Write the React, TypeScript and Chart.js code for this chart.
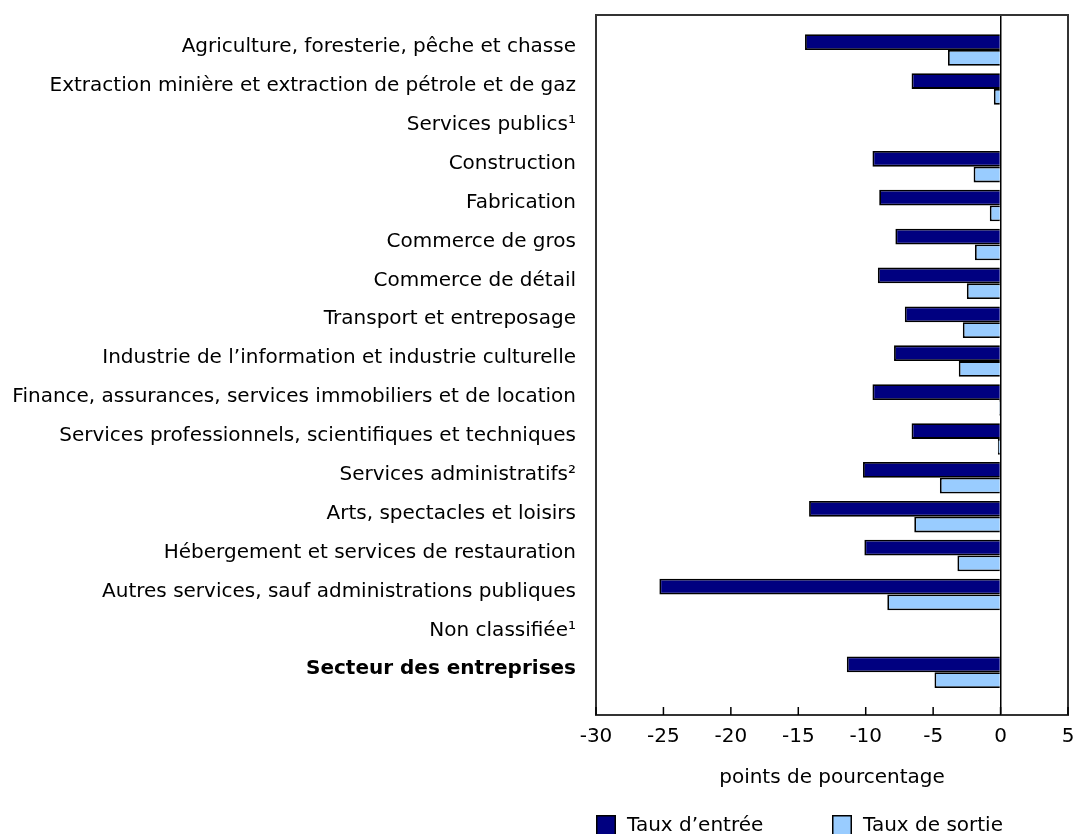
import React, { useEffect, useRef } from 'react';
import { Chart, registerables } from 'chart.js';

Chart.register(...registerables);

const categories: string[] = [
  'Agriculture, foresterie, pêche et chasse',
  'Extraction minière et extraction de pétrole et de gaz',
  'Services publics¹',
  'Construction',
  'Fabrication',
  'Commerce de gros',
  'Commerce de détail',
  'Transport et entreposage',
  'Industrie de l’information et industrie culturelle',
  'Finance, assurances, services immobiliers et de location',
  'Services professionnels, scientifiques et techniques',
  'Services administratifs²',
  'Arts, spectacles et loisirs',
  'Hébergement et services de restauration',
  'Autres services, sauf administrations publiques',
  'Non classifiée¹',
  'Secteur des entreprises',
];

const entryRates: (number | null)[] = [
  -14.5, -6.6, null, -9.5, -9.0, -7.8, -9.1, -7.1, -7.9, -9.5, -6.6, -10.2, -14.2, -10.1, -25.3, null, -11.4,
];
const exitRates: (number | null)[] = [
  -3.9, -0.5, null, -2.0, -0.8, -1.9, -2.5, -2.8, -3.1, -0.1, -0.2, -4.5, -6.4, -3.2, -8.4, null, -4.9,
];
const seriesNames: string[] = ['Taux d’entrée', 'Taux de sortie'];
const xTickValues: number[] = [-30, -25, -20, -15, -10, -5, 0, 5];
const xTitle = 'points de pourcentage';

const FONT = '"DejaVu Sans", Verdana, sans-serif';
const FS = 20;
const entryColor = '#000080';
const exitColor = '#99ccff';

const zeroPad = (scale: any) => {
  scale.paddingTop = 0;
  scale.paddingBottom = 0;
  scale.paddingLeft = 0;
  scale.paddingRight = 0;
};

export default function App() {
  const canvasRef = useRef<HTMLCanvasElement | null>(null);

  useEffect(() => {
    const canvas = canvasRef.current;
    if (!canvas) return;

    const framePlugin = {
      id: 'frameAndLegend',
      afterDraw(chart: any) {
        const { ctx, chartArea } = chart;
        const xs = chart.scales.x;
        ctx.save();
        ctx.strokeStyle = '#333333';
        ctx.lineWidth = 2;
        ctx.strokeRect(chartArea.left, chartArea.top, chartArea.right - chartArea.left, chartArea.bottom - chartArea.top);
        ctx.strokeStyle = '#000';
        ctx.lineWidth = 1.5;
        xTickValues.forEach((v) => {
          const px = xs.getPixelForValue(v);
          ctx.beginPath();
          ctx.moveTo(px, chartArea.bottom);
          ctx.lineTo(px, chartArea.bottom - 8);
          ctx.stroke();
        });
        const items = [
          { x: 596, color: entryColor, label: seriesNames[0] },
          { x: 832, color: exitColor, label: seriesNames[1] },
        ];
        ctx.font = `${FS}px ${FONT}`;
        ctx.textBaseline = 'middle';
        ctx.textAlign = 'left';
        items.forEach((it) => {
          ctx.fillStyle = it.color;
          ctx.fillRect(it.x, 815, 20, 22);
          ctx.strokeStyle = '#000';
          ctx.lineWidth = 1.5;
          ctx.strokeRect(it.x + 0.75, 815.75, 18.5, 22);
          ctx.fillStyle = '#000';
          ctx.fillText(it.label, it.x + 31, 826);
        });
        ctx.restore();
      },
    };

    const chart = new Chart(canvas, {
      type: 'bar',
      data: {
        datasets: [
          {
            label: seriesNames[0],
            data: entryRates.map((v, i) => ({ x: v, y: i })) as any,
            backgroundColor: entryColor,
            borderColor: '#000',
            borderWidth: 1.8,
            categoryPercentage: 0.81,
            barPercentage: 1.0,
          },
          {
            label: seriesNames[1],
            data: exitRates.map((v, i) => ({ x: v, y: i })) as any,
            backgroundColor: exitColor,
            borderColor: '#000',
            borderWidth: 1.8,
            categoryPercentage: 0.81,
            barPercentage: 1.0,
          },
        ],
      },
      options: {
        indexAxis: 'y',
        animation: false,
        responsive: false,
        maintainAspectRatio: false,
        layout: { padding: { top: 15, right: 6, left: 0, bottom: 0 } },
        plugins: {
          legend: { display: false },
          tooltip: { enabled: false },
        },
        scales: {
          x: {
            type: 'linear',
            position: 'bottom',
            min: -30,
            max: 5,
            afterBuildTicks: (scale: any) => {
              scale.ticks = xTickValues.map((v) => ({ value: v }));
            },
            afterFit: (scale: any) => {
              scale.height = 119;
              zeroPad(scale);
            },
            grid: {
              drawTicks: false,
              color: (c: any) => (c.tick && c.tick.value === 0 ? '#000' : 'rgba(0,0,0,0)'),
              lineWidth: 1.5,
            },
            border: { display: false },
            ticks: {
              padding: 10,
              color: '#000',
              font: { family: FONT, size: FS },
            },
            title: {
              display: true,
              text: xTitle,
              color: '#000',
              font: { family: FONT, size: FS },
              padding: { top: 0, bottom: 44 },
            },
          },
          y: {
            type: 'linear',
            reverse: true,
            offset: false,
            min: -0.9,
            max: 17.1,
            afterBuildTicks: (scale: any) => {
              scale.ticks = categories.map((_, i) => ({ value: i }));
            },
            afterFit: (scale: any) => {
              scale.width = 596;
              zeroPad(scale);
            },
            grid: { display: false, drawTicks: false, offset: false },
            border: { display: false },
            ticks: {
              autoSkip: false,
              padding: 20,
              labelOffset: -3,
              color: '#000',
              callback: (v: any) => categories[Math.round(Number(v))] ?? '',
              font: (c: any) => ({
                family: FONT,
                size: FS,
                weight: c.tick && c.tick.value === categories.length - 1 ? 'bold' : 'normal',
              }),
            },
          },
        },
      },
      plugins: [framePlugin],
    } as any);

    return () => {
      chart.destroy();
    };
  }, []);

  return (
    <div style={{ position: 'fixed', left: 0, top: 0, width: 1074, height: 834, background: '#fff' }}>
      <canvas ref={canvasRef} width={1074} height={834} style={{ display: 'block' }} />
    </div>
  );
}
